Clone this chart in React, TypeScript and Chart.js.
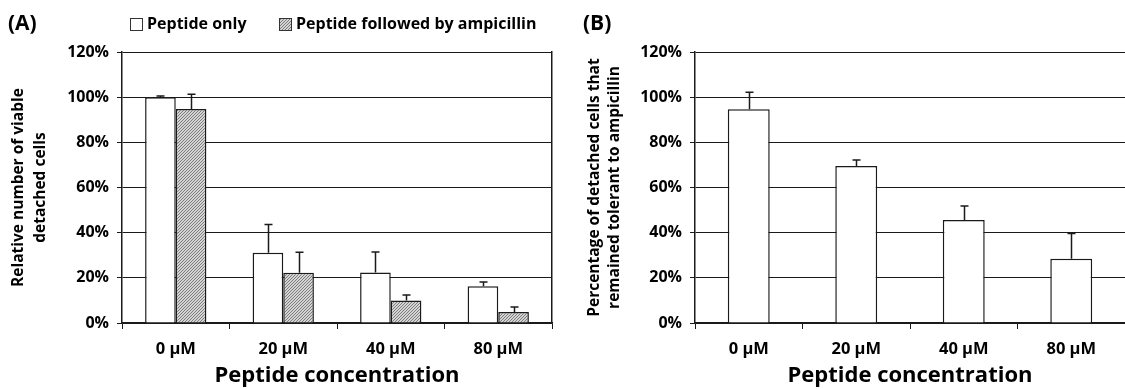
import React, { useEffect, useRef } from 'react';
import { Chart, registerables } from 'chart.js';

Chart.register(...registerables);

// ---------- data ----------
const categories = ['0 µM', '20 µM', '40 µM', '80 µM'];
const seriesNames = ['Peptide only', 'Peptide followed by ampicillin'];
const peptideOnly = [100, 31.1, 22.4, 16.3];
const peptideOnlyErr = [0.5, 12.5, 9.0, 1.9];
const peptideAmp = [94.8, 22.3, 10.0, 4.9];
const peptideAmpErr = [6.5, 9.0, 2.4, 2.2];
const tolerant = [94.6, 69.5, 45.6, 28.4];
const tolerantErr = [7.6, 2.7, 6.2, 11.2];
const yTickValues = [0, 20, 40, 60, 80, 100, 120];
const titleA = ['Relative number of viable', 'detached cells'];
const titleB = ['Percentage of detached cells that', 'remained tolerant to ampicillin'];
const xTitle = 'Peptide concentration';

const FONT = "'Open Sans', 'DejaVu Sans', sans-serif";
const INK = '#1a1a1a';

function makeHatch(): CanvasPattern | string {
  const c = document.createElement('canvas');
  c.width = 3;
  c.height = 3;
  const g = c.getContext('2d');
  if (!g) return '#b8b8b8';
  g.fillStyle = '#d4d4d4';
  g.fillRect(0, 0, 3, 3);
  g.fillStyle = '#7c7c7c';
  for (let i = 0; i < 3; i++) g.fillRect(i, 2 - i, 1, 1);
  const p = g.createPattern(c, 'repeat');
  return p || '#b8b8b8';
}

const errorBarPlugin = {
  id: 'errorBars',
  afterDatasetsDraw(chart: any) {
    const ctx = chart.ctx;
    const yScale = chart.scales.y;
    chart.data.datasets.forEach((ds: any, i: number) => {
      const errs: number[] | undefined = ds.errors;
      if (!errs) return;
      const meta = chart.getDatasetMeta(i);
      meta.data.forEach((bar: any, j: number) => {
        const v = ds.data[j] as number;
        const top = yScale.getPixelForValue(v + errs[j]);
        const x = Math.round(bar.x) + 0.5;
        ctx.save();
        ctx.strokeStyle = INK;
        ctx.lineWidth = 1.5;
        ctx.beginPath();
        ctx.moveTo(x, bar.y);
        ctx.lineTo(x, top);
        ctx.moveTo(x - 4, top);
        ctx.lineTo(x + 4, top);
        ctx.stroke();
        ctx.restore();
      });
    });
  },
};

const decoPlugin = {
  id: 'deco',
  afterDraw(chart: any, _args: any, opts: any) {
    const ctx = chart.ctx;
    ctx.save();
    ctx.fillStyle = '#000';
    ctx.textBaseline = 'middle';
    ctx.textAlign = 'left';
    ctx.font = `bold 21px ${FONT}`;
    ctx.fillText(opts.label, opts.labelX, opts.labelY);
    if (opts.legend) {
      ctx.font = `bold 16px ${FONT}`;
      chart.data.datasets.forEach((ds: any, i: number) => {
        const bx = opts.legendX[i];
        const by = opts.legendY - 6;
        ctx.fillStyle = ds.backgroundColor;
        ctx.fillRect(bx, by, 12, 12);
        ctx.strokeStyle = '#333';
        ctx.lineWidth = 1;
        ctx.strokeRect(Math.round(bx) + 0.5, Math.round(by) + 0.5, 12, 12);
        ctx.fillStyle = '#000';
        ctx.fillText(ds.label, bx + 17, opts.legendY);
      });
    }
    ctx.restore();
  },
};

function yScaleCfg(title: string[], width: number, lineHeight: number, padTop: number) {
  return {
    min: 0,
    max: 120,
    afterBuildTicks: (s: any) => {
      s.ticks = yTickValues.map((v) => ({ value: v }));
    },
    afterFit: (s: any) => {
      s.width = width;
    },
    ticks: {
      callback: (v: any) => `${v}%`,
      font: { family: FONT, size: 16, weight: 'bold' },
      color: '#000',
      padding: 8,
    },
    grid: { color: INK, lineWidth: 1, tickLength: 5 },
    border: { display: true, color: INK, width: 1.5 },
    title: {
      display: true,
      text: title,
      color: '#000',
      font: { family: FONT, size: 15.5, weight: 'bold', lineHeight },
      padding: { top: padTop, bottom: 0 },
    },
  };
}

function xScaleCfg() {
  return {
    afterFit: (s: any) => {
      s.height = 66;
    },
    grid: {
      display: true,
      drawOnChartArea: false,
      drawTicks: true,
      tickLength: 6,
      color: INK,
      lineWidth: 1,
      offset: true,
    },
    border: { display: true, color: INK, width: 1.5 },
    ticks: {
      font: { family: FONT, size: 16.5, weight: 'bold' },
      color: '#000',
      padding: 10,
      maxRotation: 0,
    },
    title: {
      display: true,
      text: xTitle,
      color: '#000',
      font: { family: FONT, size: 22, weight: 'bold', lineHeight: 1.2 },
      padding: { top: 0, bottom: 0 },
    },
  };
}

export default function App() {
  const refA = useRef<HTMLCanvasElement>(null);
  const refB = useRef<HTMLCanvasElement>(null);

  useEffect(() => {
    document.body.style.margin = '0';
    Chart.defaults.font.family = FONT;
    Chart.defaults.color = '#000';
    const hatch = makeHatch();

    const chartA = new Chart(refA.current as HTMLCanvasElement, {
      type: 'bar',
      data: {
        labels: categories,
        datasets: [
          {
            label: seriesNames[0],
            data: peptideOnly,
            errors: peptideOnlyErr,
            backgroundColor: '#ffffff',
            borderColor: INK,
            borderWidth: 1.5,
            categoryPercentage: 0.57,
            barPercentage: 1,
          } as any,
          {
            label: seriesNames[1],
            data: peptideAmp,
            errors: peptideAmpErr,
            backgroundColor: hatch,
            borderColor: INK,
            borderWidth: 1.5,
            categoryPercentage: 0.57,
            barPercentage: 1,
          } as any,
        ],
      },
      options: {
        responsive: false,
        animation: false,
        layout: { padding: { top: 52, right: 8, bottom: 0, left: 0 } },
        plugins: {
          legend: { display: false },
          tooltip: { enabled: false },
          deco: {
            label: '(A)',
            labelX: 8,
            labelY: 24,
            legend: true,
            legendX: [130, 279],
            legendY: 24,
          },
        } as any,
        scales: {
          x: xScaleCfg() as any,
          y: yScaleCfg(titleA, 122, 1.45, 7) as any,
          yRight: {
            position: 'right',
            display: true,
            afterFit: (s: any) => {
              s.width = 0;
            },
            ticks: { display: false },
            grid: { display: false, drawTicks: false },
            border: { display: true, color: INK, width: 1.5 },
          } as any,
        },
      },
      plugins: [errorBarPlugin, decoPlugin],
    });

    const chartB = new Chart(refB.current as HTMLCanvasElement, {
      type: 'bar',
      data: {
        labels: categories,
        datasets: [
          {
            label: 'Tolerant',
            data: tolerant,
            errors: tolerantErr,
            backgroundColor: '#ffffff',
            borderColor: INK,
            borderWidth: 1.5,
            categoryPercentage: 0.39,
            barPercentage: 1,
          } as any,
        ],
      },
      options: {
        responsive: false,
        animation: false,
        layout: { padding: { top: 52, right: 0, bottom: 0, left: 0 } },
        plugins: {
          legend: { display: false },
          tooltip: { enabled: false },
          deco: { label: '(B)', labelX: 23, labelY: 24, legend: false },
        } as any,
        scales: {
          x: xScaleCfg() as any,
          y: yScaleCfg(titleB, 135, 1.29, 25) as any,
        },
      },
      plugins: [errorBarPlugin, decoPlugin],
    });

    return () => {
      chartA.destroy();
      chartB.destroy();
    };
  }, []);

  return (
    <div
      style={{
        position: 'fixed',
        left: 0,
        top: 0,
        width: 1125,
        height: 389,
        background: '#ffffff',
        overflow: 'hidden',
      }}
    >
      <canvas ref={refA} width={560} height={389} style={{ position: 'absolute', left: 0, top: 0 }} />
      <canvas ref={refB} width={565} height={389} style={{ position: 'absolute', left: 560, top: 0 }} />
    </div>
  );
}
